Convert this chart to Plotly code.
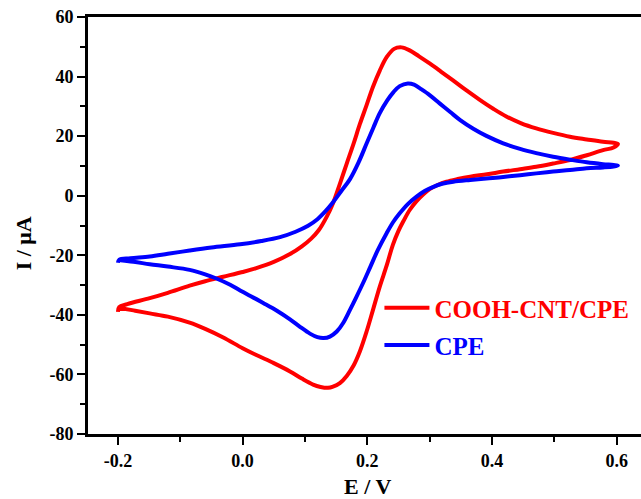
import plotly.graph_objects as go

# ---- data ----
red_name = "COOH-CNT/CPE"
blue_name = "CPE"

red_x = [-0.200, -0.198, -0.185, -0.149, -0.120, -0.085, -0.060, -0.031, 0.000, 0.022, 0.050, 0.076,
         0.095, 0.110, 0.122, 0.135, 0.145, 0.156, 0.167, 0.178, 0.188, 0.199, 0.209, 0.220, 0.231,
         0.243, 0.255, 0.268, 0.283, 0.300, 0.318, 0.337, 0.358, 0.381, 0.402, 0.423, 0.447, 0.471,
         0.498, 0.525, 0.552, 0.578, 0.595, 0.602,
         0.595, 0.578, 0.552, 0.525, 0.498, 0.471, 0.445, 0.418, 0.392, 0.365, 0.345, 0.327, 0.312,
         0.300, 0.290, 0.279, 0.268, 0.258, 0.250, 0.241, 0.231, 0.220, 0.209, 0.199, 0.188, 0.178,
         0.167, 0.156, 0.145, 0.137, 0.125, 0.113, 0.095, 0.076, 0.050, 0.022, 0.000, -0.031, -0.060,
         -0.085, -0.120, -0.149, -0.175, -0.200]
red_y = [-39.0, -37.4, -36.4, -34.4, -32.6, -30.2, -28.7, -27.2, -25.6, -24.3, -22.2, -19.6,
         -17.0, -14.4, -11.6, -7.0, -2.5, 4.0, 10.8, 17.5, 24.0, 30.5, 36.5, 42.0, 46.5,
         49.3, 49.8, 48.8, 46.8, 44.4, 41.7, 38.8, 35.5, 32.1, 29.2, 26.6, 24.3, 22.6,
         21.1, 19.8, 18.9, 18.1, 17.8, 17.4,
         16.2, 15.3, 13.6, 12.0, 10.8, 9.7, 8.9, 8.1, 7.2, 6.4, 5.6, 4.7, 3.5,
         2.2, 0.5, -1.8, -4.8, -8.5, -11.8, -16.5, -23.5, -30.5, -38.4, -45.5, -52.3, -57.0,
         -60.5, -62.9, -64.1, -64.5, -64.2, -63.4, -61.4, -59.0, -56.2, -53.5, -51.2, -47.6, -44.7,
         -42.6, -40.6, -39.5, -38.5, -37.6]

blue_x = [-0.200, -0.198, -0.180, -0.149, -0.120, -0.085, -0.050, -0.004, 0.030, 0.060, 0.085,
          0.105, 0.120, 0.133, 0.145, 0.158, 0.172, 0.186, 0.199, 0.210, 0.220, 0.232, 0.242, 0.252,
          0.265, 0.275, 0.284, 0.300, 0.316, 0.333, 0.349, 0.370, 0.391, 0.418, 0.445, 0.471, 0.498,
          0.525, 0.552, 0.578, 0.595, 0.602,
          0.595, 0.578, 0.552, 0.525, 0.498, 0.471, 0.445, 0.418, 0.391, 0.365, 0.338, 0.320, 0.306,
          0.292, 0.279, 0.265, 0.252, 0.241, 0.231, 0.217, 0.205, 0.193, 0.182, 0.172, 0.161, 0.151,
          0.140, 0.130, 0.120, 0.108, 0.092, 0.076, 0.055, 0.033, 0.010, -0.004, -0.020, -0.042,
          -0.060, -0.085, -0.120, -0.149, -0.175, -0.200]
blue_y = [-22.5, -21.5, -21.0, -20.4, -19.5, -18.4, -17.4, -16.3, -15.2, -13.9, -12.1,
          -10.1, -7.9, -5.2, -2.2, 1.5, 5.5, 11.2, 17.6, 23.0, 27.7, 32.0, 34.8, 36.8,
          37.7, 37.3, 36.1, 33.8, 31.0, 28.1, 25.4, 22.5, 20.1, 17.6, 15.7, 14.3, 13.1,
          12.1, 11.2, 10.6, 10.3, 10.1,
          9.8, 9.5, 9.2, 8.6, 8.1, 7.5, 6.9, 6.3, 5.8, 5.3, 4.7, 4.0, 3.0,
          1.6, -0.3, -2.8, -5.9, -9.0, -12.6, -18.2, -23.8, -29.4, -34.2, -38.4, -42.8, -45.6,
          -47.3, -47.8, -47.5, -46.3, -44.0, -41.5, -38.6, -36.0, -33.4, -31.8, -29.9, -27.8,
          -26.4, -24.9, -23.8, -23.0, -22.2, -21.6]

x_tick_vals = [-0.2, 0.0, 0.2, 0.4, 0.6]
x_tick_text = ["-0.2", "0.0", "0.2", "0.4", "0.6"]
y_tick_vals = [-80, -60, -40, -20, 0, 20, 40, 60]
y_tick_text = ["-80", "-60", "-40", "-20", "0", "20", "40", "60"]

x_title = "E / V"
y_title = "I / μA"

RED = "#FF0000"
BLUE = "#0000FF"
FONT = "Times New Roman, Liberation Serif, serif"

fig = go.Figure()
fig.add_trace(go.Scatter(
    x=red_x, y=red_y, mode="lines", name=f'<span style="color:{RED}">{red_name}</span>',
    showlegend=True,
    line=dict(color=RED, width=4, shape="spline", smoothing=1.0), legend="legend"))
fig.add_trace(go.Scatter(
    x=blue_x, y=blue_y, mode="lines", name=f'<span style="color:{BLUE}">{blue_name}</span>',
    showlegend=True,
    line=dict(color=BLUE, width=4, shape="spline", smoothing=1.0), legend="legend2"))

axis_common = dict(
    showline=True, linecolor="black", linewidth=3,
    ticks="outside", ticklen=8, tickwidth=2, tickcolor="black",
    showgrid=False, zeroline=False, automargin=False,
    tickfont=dict(family=FONT, size=18, color="black", weight="bold"),
)

fig.update_layout(
    width=641, height=499,
    margin=dict(l=88, r=0, t=17, b=65, autoexpand=False),
    showlegend=True,
    paper_bgcolor="white", plot_bgcolor="white",
    xaxis=dict(range=[-0.248, 0.639], tickvals=x_tick_vals, ticktext=x_tick_text,
               mirror=True,
               minor=dict(ticks="outside", ticklen=5, tickwidth=2, tickcolor="black", dtick=0.1,
                          tick0=-0.1, showgrid=False),
               **axis_common),
    yaxis=dict(range=[-80, 60], tickvals=y_tick_vals, ticktext=y_tick_text,
               minor=dict(ticks="outside", ticklen=5, tickwidth=2, tickcolor="black", dtick=10,
                          tick0=-70, showgrid=False),
               **axis_common),
    legend=dict(x=0.527, y=0.302, xanchor="left", yanchor="middle",
                bgcolor="rgba(0,0,0,0)", itemwidth=45,
                font=dict(family=FONT, size=25, weight="bold")),
    legend2=dict(x=0.527, y=0.213, xanchor="left", yanchor="middle",
                 bgcolor="rgba(0,0,0,0)", itemwidth=45,
                 font=dict(family=FONT, size=25, weight="bold")),
    annotations=[
        dict(text=x_title, xref="paper", yref="paper", x=0.506, y=-0.125,
             xanchor="center", yanchor="middle", showarrow=False,
             font=dict(family=FONT, size=22, color="black", weight="bold")),
        dict(text=y_title, xref="paper", yref="paper", x=-0.117, y=0.458,
             xanchor="center", yanchor="middle", showarrow=False, textangle=-90,
             font=dict(family=FONT, size=22, color="black", weight="bold")),
    ],
)

fig.write_html("out.html", config={"displayModeBar": False},
               post_script="document.body.style.margin='0px';")
